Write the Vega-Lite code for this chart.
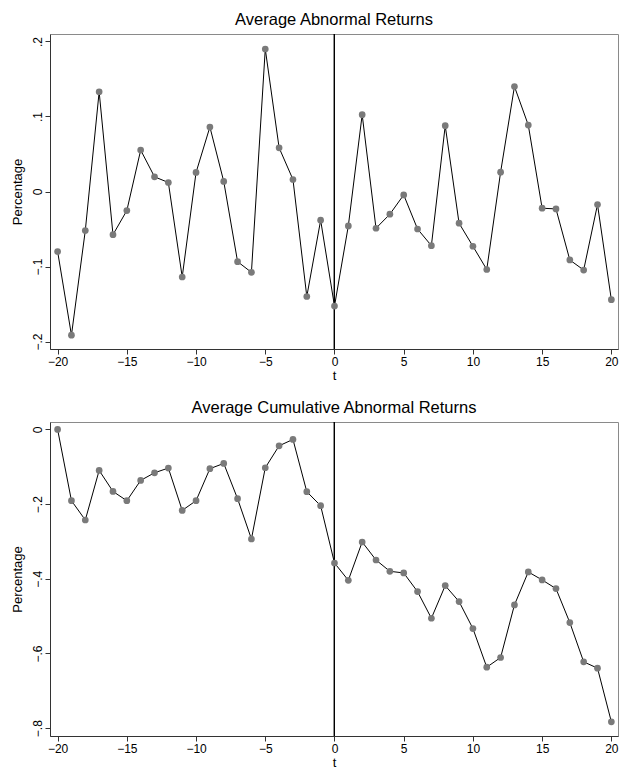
{
  "$schema": "https://vega.github.io/schema/vega-lite/v6.json",
  "padding": {"left": 10, "top": 11, "right": 0, "bottom": 0},
  "background": "white",
  "config": {
    "font": "Liberation Sans",
    "view": {"stroke": "#8a8a8a", "strokeWidth": 1},
    "axis": {
      "grid": false,
      "domainColor": "#333333",
      "tickColor": "#333333",
      "tickSize": 5,
      "labelColor": "#000000",
      "labelFontSize": 12,
      "titleFontSize": 13,
      "titleFontWeight": "normal",
      "titleColor": "#000000"
    },
    "title": {"fontSize": 16.5, "fontWeight": "normal", "color": "#000000", "offset": 5, "anchor": "middle"}
  },
  "datasets": {
    "ev": [
      {"t": -20, "ar": -0.080, "car": 0.000},
      {"t": -19, "ar": -0.1915, "car": -0.1908},
      {"t": -18, "ar": -0.052, "car": -0.2425},
      {"t": -17, "ar": 0.133, "car": -0.1097},
      {"t": -16, "ar": -0.0575, "car": -0.166},
      {"t": -15, "ar": -0.0254, "car": -0.1908},
      {"t": -14, "ar": 0.0552, "car": -0.1364},
      {"t": -13, "ar": 0.0196, "car": -0.116},
      {"t": -12, "ar": 0.012, "car": -0.1034},
      {"t": -11, "ar": -0.114, "car": -0.2167},
      {"t": -10, "ar": 0.0254, "car": -0.1908},
      {"t": -9, "ar": 0.086, "car": -0.105},
      {"t": -8, "ar": 0.0134, "car": -0.091},
      {"t": -7, "ar": -0.0935, "car": -0.1855},
      {"t": -6, "ar": -0.1078, "car": -0.2934},
      {"t": -5, "ar": 0.190, "car": -0.1025},
      {"t": -4, "ar": 0.0583, "car": -0.0437},
      {"t": -3, "ar": 0.016, "car": -0.0267},
      {"t": -2, "ar": -0.140, "car": -0.1667},
      {"t": -1, "ar": -0.0383, "car": -0.2042},
      {"t": 0, "ar": -0.1528, "car": -0.3576},
      {"t": 1, "ar": -0.0459, "car": -0.404},
      {"t": 2, "ar": 0.1024, "car": -0.3014},
      {"t": 3, "ar": -0.049, "car": -0.3496},
      {"t": 4, "ar": -0.0303, "car": -0.3799},
      {"t": 5, "ar": -0.0045, "car": -0.3843},
      {"t": 6, "ar": -0.050, "car": -0.4343},
      {"t": 7, "ar": -0.0722, "car": -0.5056},
      {"t": 8, "ar": 0.0877, "car": -0.4182},
      {"t": 9, "ar": -0.0423, "car": -0.461},
      {"t": 10, "ar": -0.073, "car": -0.5332},
      {"t": 11, "ar": -0.104, "car": -0.6367},
      {"t": 12, "ar": 0.0258, "car": -0.6108},
      {"t": 13, "ar": 0.140, "car": -0.4699},
      {"t": 14, "ar": 0.0886, "car": -0.3816},
      {"t": 15, "ar": -0.0223, "car": -0.403},
      {"t": 16, "ar": -0.0232, "car": -0.4262},
      {"t": 17, "ar": -0.0913, "car": -0.5172},
      {"t": 18, "ar": -0.1047, "car": -0.6224},
      {"t": 19, "ar": -0.0174, "car": -0.6393},
      {"t": 20, "ar": -0.1443, "car": -0.7829}
    ]
  },
  "bounds": "flush",
  "spacing": 73,
  "vconcat": [
    {
      "title": "Average Abnormal Returns",
      "width": 568,
      "height": 315,
      "data": {"name": "ev"},
      "encoding": {
        "x": {"field": "t", "type": "quantitative", "title": "t",
              "scale": {"domain": [-20.55, 20.48], "nice": false, "zero": false},
              "axis": {"values": [-20, -15, -10, -5, 0, 5, 10, 15, 20], "labelPadding": 2, "titlePadding": 2}}
      },
      "layer": [
        {"mark": {"type": "rule", "color": "#000000", "strokeWidth": 0.9}, "encoding": {"y": {"datum": 0, "type": "quantitative"}}},
        {"mark": {"type": "rule", "color": "#000000", "strokeWidth": 0.9}, "encoding": {"x": {"datum": 0, "type": "quantitative"}}},
        {"mark": {"type": "line", "color": "#000000", "strokeWidth": 1},
         "encoding": {"y": {"field": "ar", "type": "quantitative", "title": "Percentage",
           "scale": {"domain": [-0.21, 0.21], "nice": false, "zero": false},
           "axis": {"values": [-0.2, -0.1, 0, 0.1, 0.2], "labelAngle": 270, "labelAlign": "center", "labelBaseline": "bottom", "labelPadding": 1, "titlePadding": 7,
                    "labelExpr": "replace(format(datum.value, '.1~f'), '0.', '.')"}}}},
        {"mark": {"type": "point", "filled": true, "color": "#7a7a7a", "opacity": 1, "size": 45},
         "encoding": {"y": {"field": "ar", "type": "quantitative"}}}
      ]
    },
    {
      "title": "Average Cumulative Abnormal Returns",
      "width": 568,
      "height": 314,
      "data": {"name": "ev"},
      "encoding": {
        "x": {"field": "t", "type": "quantitative", "title": "t",
              "scale": {"domain": [-20.55, 20.48], "nice": false, "zero": false},
              "axis": {"values": [-20, -15, -10, -5, 0, 5, 10, 15, 20], "labelPadding": 2, "titlePadding": 2}}
      },
      "layer": [
        {"mark": {"type": "rule", "color": "#000000", "strokeWidth": 0.9}, "encoding": {"y": {"datum": 0, "type": "quantitative"}}},
        {"mark": {"type": "rule", "color": "#000000", "strokeWidth": 0.9}, "encoding": {"x": {"datum": 0, "type": "quantitative"}}},
        {"mark": {"type": "line", "color": "#000000", "strokeWidth": 1},
         "encoding": {"y": {"field": "car", "type": "quantitative", "title": "Percentage",
           "scale": {"domain": [-0.821, 0.02], "nice": false, "zero": false},
           "axis": {"values": [-0.8, -0.6, -0.4, -0.2, 0], "labelAngle": 270, "labelAlign": "center", "labelBaseline": "bottom", "labelPadding": 1, "titlePadding": 7,
                    "labelExpr": "replace(format(datum.value, '.1~f'), '0.', '.')"}}}},
        {"mark": {"type": "point", "filled": true, "color": "#7a7a7a", "opacity": 1, "size": 45},
         "encoding": {"y": {"field": "car", "type": "quantitative"}}}
      ]
    }
  ]
}
